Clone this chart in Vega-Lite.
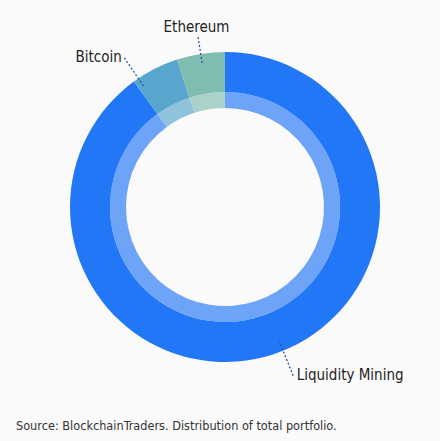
{
  "$schema": "https://vega.github.io/schema/vega-lite/v6.json",
  "width": 430,
  "height": 414,
  "autosize": {"type": "none"},
  "padding": {"left": 10, "top": 0, "right": 0, "bottom": 27},
  "background": "#fafafa",
  "config": {"view": {"stroke": null}, "font": "DejaVu Sans Condensed, Roboto"},
  "title": {
    "text": "Source: BlockchainTraders. Distribution of total portfolio.",
    "orient": "bottom",
    "anchor": "start",
    "frame": "group",
    "offset": 6,
    "dx": 6,
    "fontSize": 12.6,
    "fontWeight": "normal",
    "color": "#333333",
    "font": "DejaVu Sans Condensed, Roboto"
  },
  "data": {
    "values": [
      {"asset": "Liquidity Mining", "share": 90},
      {"asset": "Bitcoin", "share": 5},
      {"asset": "Ethereum", "share": 5}
    ]
  },
  "transform": [
    {"stack": "share", "groupby": [], "as": ["s0", "s1"], "sort": [{"field": "share", "order": "descending"}]}
  ],
  "layer": [
    {
      "mark": {"type": "arc", "radius": 155, "radius2": 115},
      "encoding": {
        "theta": {"field": "s0", "type": "quantitative", "stack": null, "scale": {"domain": [0, 100]}},
        "theta2": {"field": "s1"},
        "color": {
          "field": "asset",
          "type": "nominal",
          "scale": {"domain": ["Liquidity Mining", "Bitcoin", "Ethereum"], "range": ["#2277f7", "#58a5cd", "#80bdb1"]},
          "legend": null
        }
      }
    },
    {
      "mark": {"type": "arc", "radius": 115, "radius2": 99, "opacity": 0.65},
      "encoding": {
        "theta": {"field": "s0", "type": "quantitative", "stack": null},
        "theta2": {"field": "s1"},
        "color": {"field": "asset", "type": "nominal", "legend": null}
      }
    },
    {
      "transform": [{"filter": "datum.asset === 'Liquidity Mining'"}],
      "mark": {"type": "arc", "radius": 182, "radius2": 145, "thetaOffset": 2.75762, "theta2Offset": 2.75762, "fillOpacity": 0, "stroke": "#1d4a9a", "strokeWidth": 1.2, "strokeDash": [2, 2]},
      "encoding": {
        "theta": {"field": "s0", "type": "quantitative", "stack": null},
        "theta2": {"field": "s0"}
      }
    },
    {
      "transform": [{"filter": "datum.asset === 'Bitcoin'"}],
      "mark": {"type": "arc", "radius": 180, "radius2": 145, "thetaOffset": 0.03491, "theta2Offset": 0.03491, "fillOpacity": 0, "stroke": "#1d4a9a", "strokeWidth": 1.2, "strokeDash": [2, 2]},
      "encoding": {
        "theta": {"field": "s0", "type": "quantitative", "stack": null},
        "theta2": {"field": "s0"}
      }
    },
    {
      "transform": [{"filter": "datum.asset === 'Ethereum'"}],
      "mark": {"type": "arc", "radius": 172, "radius2": 145, "thetaOffset": 0.15708, "theta2Offset": 0.15708, "fillOpacity": 0, "stroke": "#1d4a9a", "strokeWidth": 1.2, "strokeDash": [2, 2]},
      "encoding": {
        "theta": {"field": "s0", "type": "quantitative", "stack": null},
        "theta2": {"field": "s0"}
      }
    },
    {
      "mark": {"type": "text", "radius": 177, "align": "left", "baseline": "middle", "dx": 17, "fontSize": 15, "color": "#222222"},
      "encoding": {
        "theta": {"field": "share", "type": "quantitative", "stack": true},
        "order": {"field": "share", "type": "quantitative", "sort": "descending"},
        "text": {"condition": {"test": "datum.asset === 'Liquidity Mining'", "field": "asset", "type": "nominal"}, "value": ""}
      }
    },
    {
      "mark": {"type": "text", "radius": 168, "align": "right", "baseline": "middle", "dx": -27, "fontSize": 15, "color": "#222222"},
      "encoding": {
        "theta": {"field": "share", "type": "quantitative", "stack": true},
        "order": {"field": "share", "type": "quantitative", "sort": "descending"},
        "text": {"condition": {"test": "datum.asset === 'Bitcoin'", "field": "asset", "type": "nominal"}, "value": ""}
      }
    },
    {
      "mark": {"type": "text", "radius": 182, "align": "center", "baseline": "middle", "fontSize": 15, "color": "#222222"},
      "encoding": {
        "theta": {"field": "share", "type": "quantitative", "stack": true},
        "order": {"field": "share", "type": "quantitative", "sort": "descending"},
        "text": {"condition": {"test": "datum.asset === 'Ethereum'", "field": "asset", "type": "nominal"}, "value": ""}
      }
    }
  ]
}
